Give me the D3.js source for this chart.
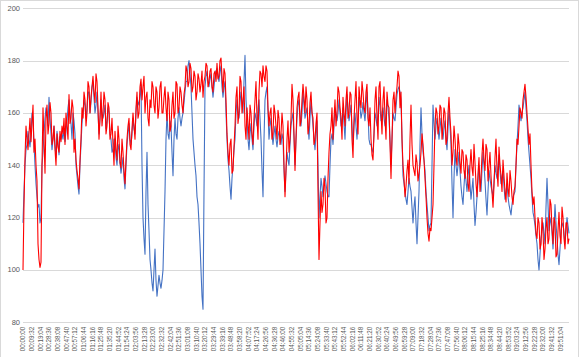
<!DOCTYPE html>
<html><head><meta charset="utf-8">
<script src="https://cdn.jsdelivr.net/npm/d3@7"></script>
<style>html,body{margin:0;padding:0;background:#fff;}svg{display:block;}</style>
</head><body>
<script>
// sample step in seconds between consecutive values
const stepSeconds = 66;
const tickStepSeconds = 572;
const tickLabels = ["00:00:00","00:09:32","00:19:04","00:28:36","00:38:08","00:47:40","00:57:12","01:06:44","01:16:16","01:25:48","01:35:20","01:44:52","01:54:24","02:03:56","02:13:28","02:23:00","02:32:32","02:42:04","02:51:36","03:01:08","03:10:40","03:20:12","03:29:44","03:39:16","03:48:48","03:58:20","04:07:52","04:17:24","04:26:56","04:36:28","04:46:00","04:55:32","05:05:04","05:14:36","05:24:08","05:33:40","05:43:12","05:52:44","06:02:16","06:11:48","06:21:20","06:30:52","06:40:24","06:49:56","06:59:28","07:09:00","07:18:32","07:28:04","07:37:36","07:47:08","07:56:40","08:06:12","08:15:44","08:25:16","08:34:48","08:44:20","08:53:52","09:03:24","09:12:56","09:22:28","09:32:00","09:41:32","09:51:04"];
const yTicks = [80,100,120,140,160,180,200];

const redValues = [
100,125,143,155,150,146,152,158,149,156,163,145,150,140,134,110,104,101,103,140,
162,150,137,158,163,152,156,164,160,148,150,155,146,140,152,147,145,153,149,155,
152,158,148,160,155,150,167,156,158,165,162,145,150,142,138,135,131,142,150,162,
158,168,165,155,160,172,170,160,166,170,174,168,164,175,172,162,150,158,168,155,
160,168,165,152,155,164,162,150,152,158,148,140,153,146,142,155,150,141,139,150,
145,138,133,142,150,155,158,148,146,154,160,155,150,162,168,158,160,170,173,165,
170,174,160,166,168,158,155,165,162,172,170,163,160,170,168,158,162,170,172,160,
160,166,170,162,157,168,165,153,155,163,168,158,160,172,171,160,162,170,168,163,
160,167,170,178,176,170,172,179,177,168,170,176,174,165,168,175,173,168,171,176,
166,172,174,179,178,170,172,176,177,170,168,175,176,172,179,173,174,180,181,174,
168,177,175,165,152,145,140,148,150,137,138,147,155,166,170,156,160,174,172,160,
165,170,155,150,162,156,150,163,160,152,148,158,165,172,158,150,168,176,175,170,
178,174,172,178,176,162,155,160,162,150,152,163,160,155,150,161,158,148,152,160,
155,140,128,138,150,157,145,150,158,171,165,152,138,150,162,166,168,155,157,165,
171,166,160,170,165,152,155,164,168,160,158,148,150,156,160,130,104,118,130,122,
125,135,132,118,120,135,145,152,155,162,150,158,165,155,160,170,168,162,158,150,
166,160,155,165,170,158,160,168,167,150,143,158,165,172,158,152,170,165,162,172,
168,162,160,168,171,158,155,162,150,144,142,152,165,170,158,150,170,172,160,152,
165,170,158,150,168,163,162,148,135,150,165,168,160,166,170,176,174,162,168,150,
140,135,128,132,138,142,133,150,163,148,140,138,136,144,141,134,137,140,145,152,
148,142,135,128,120,114,111,116,115,120,125,140,155,162,160,152,155,163,162,150,
155,162,160,148,150,160,166,158,152,140,145,155,150,143,140,152,148,141,137,146,
145,138,135,144,142,133,130,140,146,139,136,148,141,133,128,137,143,130,135,144,
150,142,138,148,146,134,140,145,136,130,124,132,143,150,138,132,147,140,136,130,
142,136,130,126,137,131,128,138,134,128,125,130,132,140,150,148,155,162,160,158,
165,168,171,166,160,154,148,152,140,130,125,128,120,114,112,120,118,108,110,120,
115,104,108,116,120,110,112,127,125,116,110,120,118,105,106,115,122,113,110,124,120,112,108,118,118,110,112
];

const blueValues = [
118,130,140,146,148,153,150,147,152,160,158,148,140,133,128,124,125,118,120,140,
145,152,158,162,160,155,166,158,152,146,150,155,148,143,153,149,144,151,150,152,
150,154,149,153,157,162,165,160,156,150,160,157,152,140,136,132,129,140,148,156,
160,165,163,158,162,168,168,160,164,170,172,166,160,163,168,160,152,158,165,160,
158,160,163,154,157,162,160,152,150,145,146,150,150,143,140,146,148,141,137,140,
143,135,131,140,148,152,156,150,148,152,158,154,152,160,166,164,163,167,171,140,
120,112,106,130,145,125,115,104,100,95,92,100,108,96,90,94,98,95,93,96,
100,115,130,150,160,152,150,157,155,145,136,150,158,152,150,158,162,158,155,158,
160,164,168,172,172,178,180,175,170,160,150,145,140,136,128,125,118,110,100,90,
85,130,170,174,176,172,170,173,175,170,166,170,174,176,177,174,172,176,178,170,
166,170,172,160,150,142,138,132,127,135,140,146,150,160,165,160,158,164,168,164,
160,172,182,165,158,150,146,152,156,150,146,155,160,158,155,162,165,158,150,138,
128,150,165,168,170,160,150,155,158,152,148,152,155,150,147,151,153,150,148,152,
150,138,130,138,145,142,140,148,155,158,160,150,140,150,158,163,165,160,155,160,
168,163,158,160,162,155,150,158,165,160,155,150,146,152,157,140,120,128,135,132,
128,132,136,133,130,128,128,140,150,152,148,155,162,160,157,160,165,160,155,158,
162,156,150,160,167,162,157,160,163,155,148,155,160,155,150,158,166,162,158,160,
164,160,157,163,168,160,150,148,148,146,145,152,160,158,155,160,166,162,157,160,
162,158,155,160,165,162,158,150,140,150,160,158,157,162,167,169,170,168,165,150,
136,133,130,127,125,130,135,132,130,124,118,124,128,118,110,120,130,148,162,152,
145,142,138,130,125,120,115,117,118,140,163,156,150,155,158,154,150,154,158,154,
150,154,157,150,146,154,162,155,148,133,120,135,146,140,136,140,145,138,132,128,
125,132,138,134,130,136,140,133,127,131,135,125,117,122,128,134,140,135,130,138,
145,140,134,127,121,130,138,135,132,130,128,134,140,137,135,140,144,138,133,136,
138,132,127,130,133,128,125,123,121,125,128,129,130,140,148,155,163,160,157,160,
162,165,168,162,157,150,145,140,135,128,122,120,117,113,110,104,100,106,112,115,
118,114,110,124,135,125,115,118,120,114,108,116,125,118,112,106,102,108,115,117,118,114,110,115,120,117,114
];

const W = 580, H = 357;
const margin = {left: 23, right: 11, top: 8.3, bottom: 34.7};
const svg = d3.select("body").append("svg").attr("width", W).attr("height", H);

svg.append("rect").attr("x",0.5).attr("y",0.5).attr("width",578).attr("height",H)
  .attr("fill","#fff").attr("stroke","#d9d9d9").attr("stroke-width",1);

const tMax = 546 * stepSeconds;
const x = d3.scaleLinear().domain([0, tMax]).range([margin.left, W - margin.right]);
const y = d3.scaleLinear().domain([80, 200]).range([H - margin.bottom, margin.top]);

// gridlines
svg.append("g").selectAll("line").data(yTicks).join("line")
  .attr("x1", margin.left).attr("x2", W - margin.right)
  .attr("y1", d => Math.round(y(d)) + 0.5).attr("y2", d => Math.round(y(d)) + 0.5)
  .attr("stroke", "#d9d9d9").attr("stroke-width", 1);

// y axis labels
svg.append("g").selectAll("text").data(yTicks).join("text")
  .attr("x", 20).attr("y", d => y(d) + 2.5)
  .attr("text-anchor", "end")
  .attr("font-family", "Liberation Sans, Arial, sans-serif")
  .attr("font-size", 7.5).attr("fill", "#595959")
  .text(d => d);

// x axis labels
const xg = svg.append("g");
xg.selectAll("text").data(tickLabels).join("text")
  .attr("transform", (d, i) => `translate(${x(i * tickStepSeconds) + 2.3},${H - margin.bottom + 4.5}) rotate(-90)`)
  .attr("text-anchor", "end")
  .attr("font-family", "Liberation Sans, Arial, sans-serif")
  .attr("font-size", 6.3).attr("fill", "#595959")
  .text(d => d);

const line = d3.line().x((d, i) => x(i * stepSeconds)).y(d => y(d));

svg.append("path").datum(blueValues).attr("d", line)
  .attr("fill", "none").attr("stroke", "#4472c4").attr("stroke-width", 1.1)
  .attr("stroke-linejoin", "round");
svg.append("path").datum(redValues).attr("d", line)
  .attr("fill", "none").attr("stroke", "#ff0000").attr("stroke-width", 1.1)
  .attr("stroke-linejoin", "round");
</script>
</body></html>
